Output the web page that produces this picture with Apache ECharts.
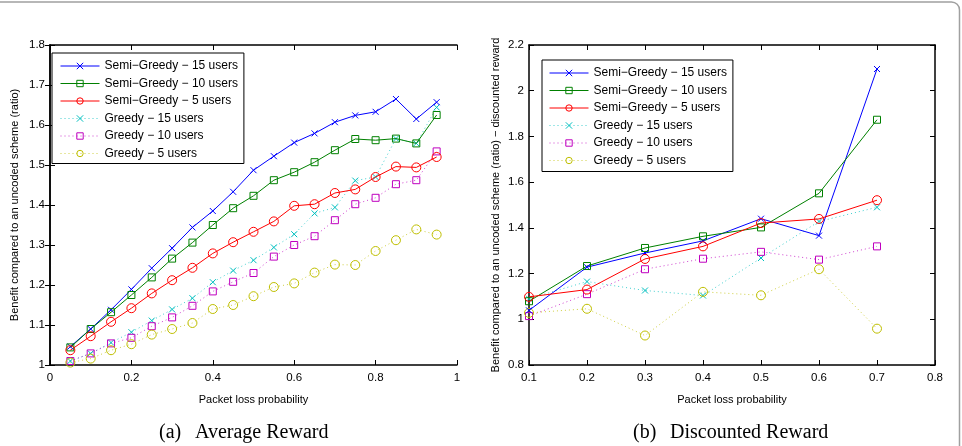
<!DOCTYPE html>
<html>
<head>
<meta charset="utf-8">
<script src="https://cdn.jsdelivr.net/npm/echarts@6/dist/echarts.min.js"></script>
<style>html,body{margin:0;padding:0;background:#fff;}#c{width:962px;height:446px;}</style>
</head>
<body>
<div id="c"></div>
<script>
// ---- data ----
var xAvg = [0.05,0.1,0.15,0.2,0.25,0.3,0.35,0.4,0.45,0.5,0.55,0.6,0.65,0.7,0.75,0.8,0.85,0.9,0.95];
var avgSemi15 = [1.046,1.09,1.138,1.189,1.242,1.292,1.344,1.385,1.433,1.487,1.522,1.556,1.579,1.607,1.624,1.633,1.665,1.615,1.657];
var avgSemi10 = [1.044,1.09,1.132,1.175,1.219,1.266,1.306,1.35,1.392,1.423,1.462,1.482,1.507,1.537,1.565,1.562,1.566,1.554,1.625];
var avgSemi5 = [1.037,1.072,1.108,1.142,1.179,1.212,1.243,1.279,1.307,1.333,1.359,1.398,1.402,1.43,1.439,1.47,1.496,1.494,1.52];
var avgGreedy15 = [1.01,1.029,1.056,1.082,1.111,1.139,1.167,1.207,1.236,1.262,1.294,1.327,1.379,1.394,1.461,1.47,1.566,1.554,1.644];
var avgGreedy10 = [1.01,1.029,1.054,1.068,1.097,1.119,1.148,1.184,1.208,1.23,1.271,1.30,1.322,1.362,1.402,1.418,1.452,1.462,1.534];
var avgGreedy5 = [1.006,1.016,1.037,1.052,1.076,1.09,1.105,1.14,1.15,1.172,1.195,1.204,1.231,1.251,1.25,1.285,1.312,1.339,1.326];

var xDisc = [0.1,0.2,0.3,0.4,0.5,0.6,0.7];
var discSemi15 = [1.039,1.228,1.29,1.343,1.44,1.366,2.095];
var discSemi10 = [1.079,1.233,1.312,1.363,1.402,1.551,1.873];
var discSemi5 = [1.098,1.13,1.264,1.319,1.421,1.439,1.521];
var discGreedy15 = [1.09,1.165,1.126,1.104,1.268,1.428,1.49];
var discGreedy10 = [1.014,1.11,1.219,1.265,1.295,1.261,1.319];
var discGreedy5 = [1.028,1.046,0.929,1.12,1.105,1.219,0.959];

var names = ['Semi\u2212Greedy \u2212 15 users','Semi\u2212Greedy \u2212 10 users','Semi\u2212Greedy \u2212 5 users',
             'Greedy \u2212 15 users','Greedy \u2212 10 users','Greedy \u2212 5 users'];
var colors = ['#0000ff','#008000','#ff0000','#00bfbf','#bf00bf','#bfbf00'];
var avgSets = [avgSemi15, avgSemi10, avgSemi5, avgGreedy15, avgGreedy10, avgGreedy5];
var discSets = [discSemi15, discSemi10, discSemi5, discGreedy15, discGreedy10, discGreedy5];

var crossPath = 'path://M0,0L10,10M0,10L10,0';
var symbols = [crossPath,'rect','circle',crossPath,'rect','circle'];
var symSizes = [6,7,9,6,7,9];

function pairs(xs, ys){ return xs.map(function(x,i){ return [x, ys[i]]; }); }

var series = [];
function addSeries(sets, xs, gi){
  sets.forEach(function(ys, i){
    var greedy = i >= 3;
    series.push({
      type:'line', name:names[i], xAxisIndex:gi*2, yAxisIndex:gi*2,
      data:pairs(xs, ys),
      symbol:symbols[i], symbolSize:symSizes[i], showSymbol:true,
      lineStyle:{color:colors[i], width:1, type: greedy ? [1,3] : 'solid', opacity: greedy ? 0.75 : 1},
      itemStyle:{color:'rgba(0,0,0,0)', borderColor:colors[i], borderWidth:1},
      emphasis:{disabled:true}, animation:false, z: greedy ? 3 : 4
    });
  });
}
addSeries(avgSets, xAvg, 0);
addSeries(discSets, xDisc, 1);

var tickFont = {fontFamily:'Liberation Sans', fontSize:11.5, color:'#000'};
function xAxes(gi, min, max, interval){
  return [{
    type:'value', gridIndex:gi, min:min, max:max, interval:interval, position:'bottom',
    axisLine:{show:true, lineStyle:{color:'#000', width:1.5}},
    axisTick:{show:true, inside:true, length:5, lineStyle:{color:'#000'}},
    axisLabel:Object.assign({margin:7}, tickFont),
    splitLine:{show:false},
    name:'Packet loss probability', nameLocation:'middle', nameGap:29,
    nameTextStyle:{fontFamily:'Liberation Sans', fontSize:11, color:'#000'}
  },{
    type:'value', gridIndex:gi, min:min, max:max, interval:interval, position:'top',
    axisLine:{show:true, lineStyle:{color:'#000', width:1.5}},
    axisTick:{show:true, inside:true, length:5, lineStyle:{color:'#000'}},
    axisLabel:{show:false}, splitLine:{show:false}
  }];
}
function yAxes(gi, min, max, interval, title, gap){
  return [{
    type:'value', gridIndex:gi, min:min, max:max, interval:interval, position:'left',
    axisLine:{show:true, lineStyle:{color:'#000', width:1.5}},
    axisTick:{show:true, inside:true, length:5, lineStyle:{color:'#000'}},
    axisLabel:Object.assign({margin:5}, tickFont),
    splitLine:{show:false},
    name:title, nameLocation:'middle', nameGap:gap, nameRotate:90,
    nameTextStyle:{fontFamily:'Liberation Sans', fontSize:11, color:'#000'}
  },{
    type:'value', gridIndex:gi, min:min, max:max, interval:interval, position:'right',
    axisLine:{show:true, lineStyle:{color:'#000', width:1.5}},
    axisTick:{show:true, inside:true, length:5, lineStyle:{color:'#000'}},
    axisLabel:{show:false}, splitLine:{show:false}
  }];
}

var legendBase = {
  orient:'vertical', data:names, itemWidth:39, itemHeight:8, itemGap:3.5, itemTextGap:5,
  backgroundColor:'#fff', borderColor:'#000', borderWidth:1,
  textStyle:{fontFamily:'Liberation Sans', fontSize:12, color:'#000', lineHeight:14},
  lineStyle:{width:1}, itemStyle:{borderWidth:1},
  selectedMode:false, z:10
};

var option = {
  animation:false,
  backgroundColor:'#fff',
  grid:[
    {left:50, top:45, width:407, height:320},
    {left:529, top:45, width:406, height:320}
  ],
  xAxis: xAxes(0, 0, 1, 0.2).concat(xAxes(1, 0.1, 0.8, 0.1)),
  yAxis: yAxes(0, 1, 1.8, 0.1, 'Benefit compared to an uncoded scheme (ratio)', 30)
         .concat(yAxes(1, 0.8, 2.2, 0.2, 'Benefit compared to an uncoded scheme (ratio) \u2212 discounted reward', 28)),
  legend:[
    Object.assign({left:52, top:53, padding:[6,6,3,8]}, legendBase),
    Object.assign({left:542, top:60, padding:[6,6,4,7]}, legendBase)
  ],
  series: series,
  graphic:[
    {type:'rect', shape:{x:-20, y:2, width:979.5, height:500, r:8}, style:{fill:'none', stroke:'#a0a0a0', lineWidth:1.5}, silent:true},
    {type:'text', left:159, top:423, style:{text:'(a)', font:'20px "Liberation Serif"', fill:'#000'}},
    {type:'text', left:195, top:423, style:{text:'Average Reward', font:'20px "Liberation Serif"', fill:'#000'}},
    {type:'text', left:633, top:423, style:{text:'(b)', font:'20px "Liberation Serif"', fill:'#000'}},
    {type:'text', left:670, top:423, style:{text:'Discounted Reward', font:'20px "Liberation Serif"', fill:'#000'}}
  ]
};
var chart = echarts.init(document.getElementById('c'), null, {renderer:'canvas'});
chart.setOption(option);
</script>
</body>
</html>
